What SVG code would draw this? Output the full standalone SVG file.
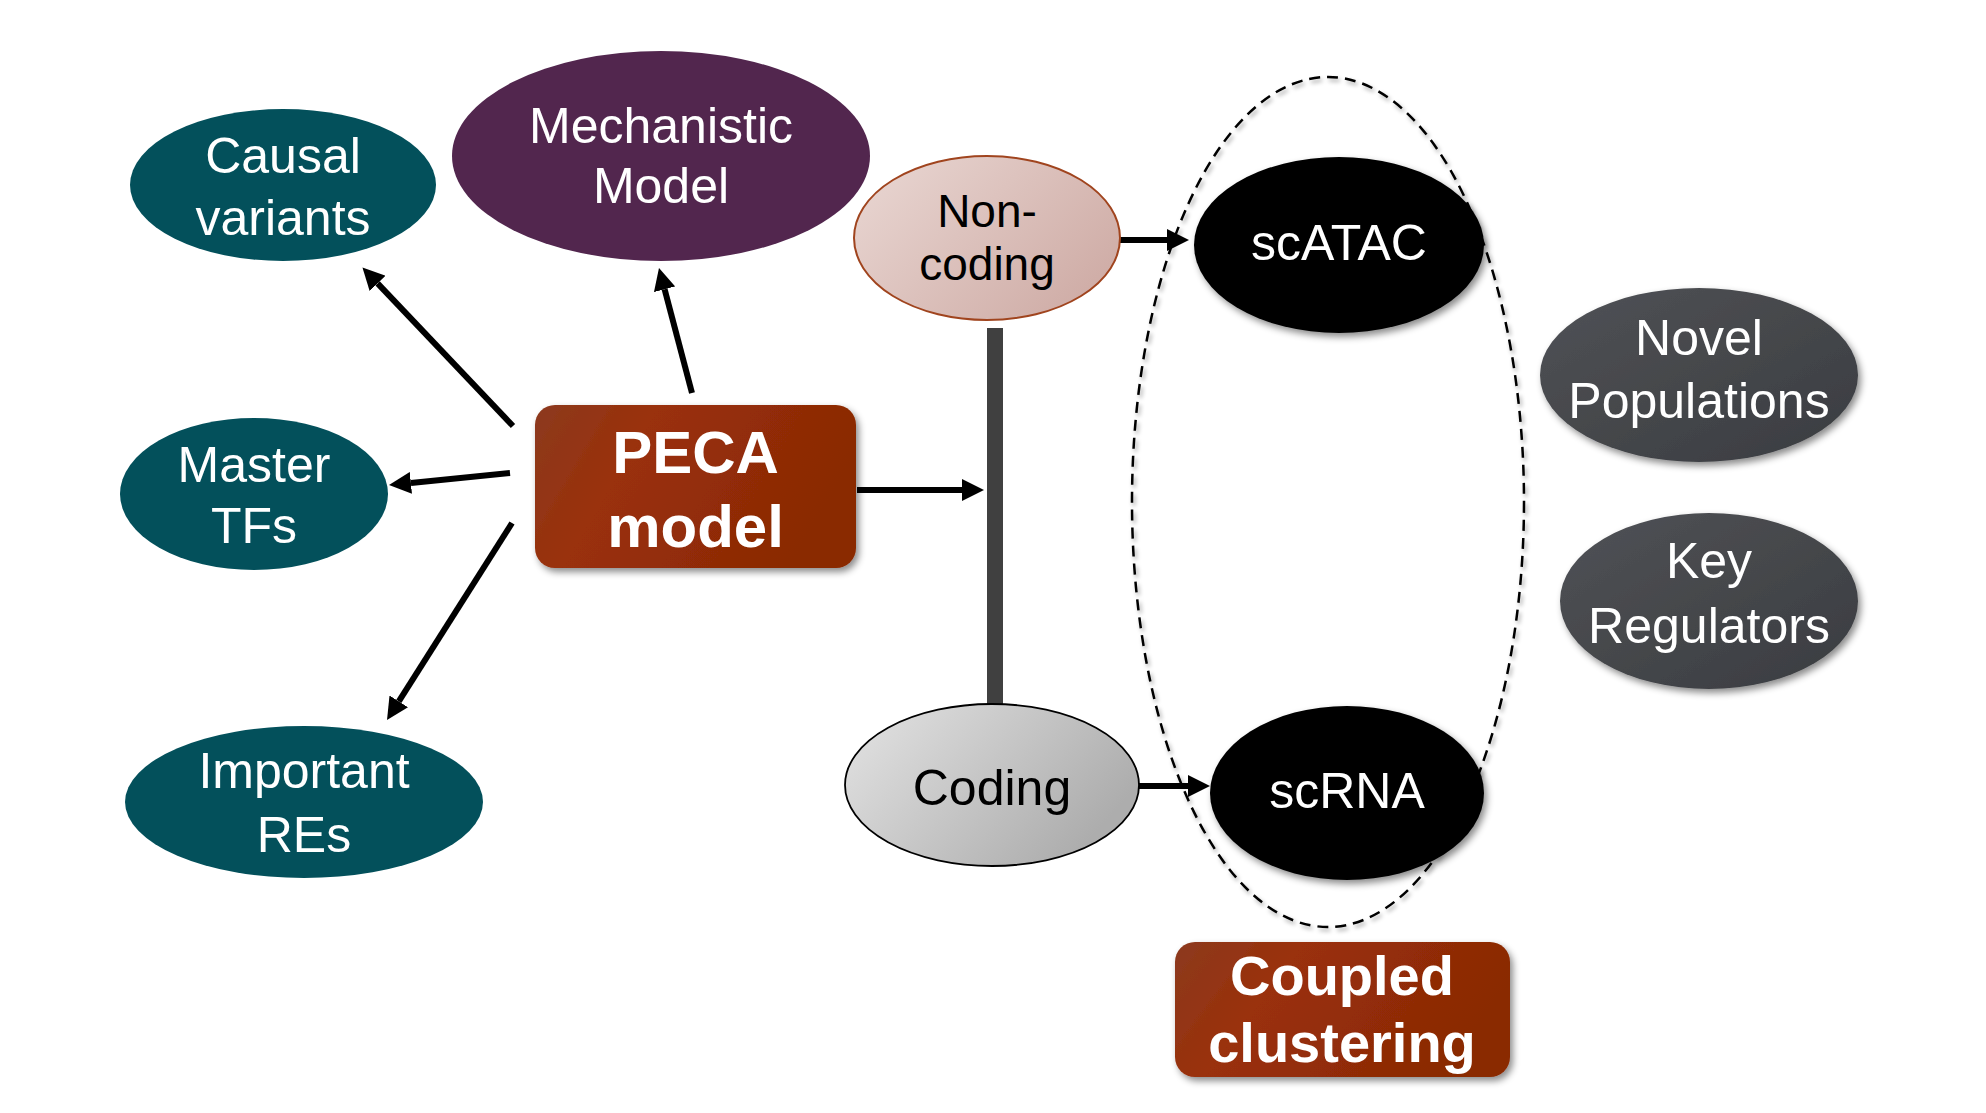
<svg xmlns="http://www.w3.org/2000/svg" width="1986" height="1113" viewBox="0 0 1986 1113">
<style>
.lt{font-family:"Liberation Sans",Arial,sans-serif;font-size:50px;fill:#ffffff;text-anchor:middle}
.dk{font-family:"Liberation Sans",Arial,sans-serif;fill:#000000;text-anchor:middle}
.bd{font-family:"Liberation Sans",Arial,sans-serif;font-weight:bold;fill:#ffffff;text-anchor:middle}
.teal{fill:#03505b}
.arrow{stroke:#000;stroke-width:6;fill:none;marker-end:url(#ah)}
</style>
<defs>
<marker id="ah" markerUnits="userSpaceOnUse" markerWidth="22" markerHeight="22" refX="0" refY="11" orient="auto" viewBox="0 0 22 22">
<path d="M0,0 L22,11 L0,22 z" fill="#000"/>
</marker>
<filter id="sh" x="-20%" y="-20%" width="140%" height="140%">
<feDropShadow dx="3" dy="4" stdDeviation="3.5" flood-color="#000" flood-opacity="0.45"/>
</filter>
<filter id="shs" x="-10%" y="-10%" width="120%" height="120%">
<feDropShadow dx="2" dy="3" stdDeviation="2" flood-color="#000" flood-opacity="0.35"/>
</filter>
<linearGradient id="gBrown" x1="0" y1="0" x2="1" y2="0.3">
<stop offset="0" stop-color="#8c3a1e"/>
<stop offset="0.35" stop-color="#9a300a"/>
<stop offset="1" stop-color="#8a2904"/>
</linearGradient>
<linearGradient id="gPink" x1="0" y1="0" x2="1" y2="0.6">
<stop offset="0" stop-color="#ead8d4"/>
<stop offset="1" stop-color="#d0aea8"/>
</linearGradient>
<linearGradient id="gGray" x1="0" y1="0" x2="1" y2="0.5">
<stop offset="0" stop-color="#e4e4e4"/>
<stop offset="1" stop-color="#adadad"/>
</linearGradient>
<linearGradient id="gDark" x1="0" y1="0" x2="1" y2="1">
<stop offset="0" stop-color="#505256"/>
<stop offset="1" stop-color="#3a3c40"/>
</linearGradient>
</defs>

<g id="cluster-outline">
<ellipse cx="1328" cy="502" rx="196" ry="425" fill="none" stroke="#000" stroke-width="2.5" stroke-dasharray="11,7" filter="url(#shs)"/>
</g>

<g id="connectors">
<line class="arrow" x1="513" y1="426" x2="377.6" y2="283.4"/>
<line class="arrow" x1="692" y1="393" x2="664.6" y2="289.3"/>
<line class="arrow" x1="510" y1="473" x2="410.9" y2="482.9"/>
<line class="arrow" x1="512" y1="523" x2="398.8" y2="701.4"/>
<line class="arrow" x1="857" y1="490" x2="962" y2="490"/>
<line class="arrow" x1="1120" y1="240" x2="1167" y2="240"/>
<line class="arrow" x1="1139" y1="786" x2="1188" y2="786"/>
<rect x="987" y="328" width="16" height="378" fill="#404040"/>
</g>

<g id="causal-variants">
<ellipse class="teal" cx="283" cy="185" rx="153" ry="76"/>
<text class="lt" x="283" y="173">Causal</text>
<text class="lt" x="283" y="235">variants</text>
</g>

<g id="mechanistic-model">
<ellipse cx="661" cy="156" rx="209" ry="105" fill="#52264e"/>
<text class="lt" x="661" y="143">Mechanistic</text>
<text class="lt" x="661" y="203">Model</text>
</g>

<g id="master-tfs">
<ellipse class="teal" cx="254" cy="494" rx="134" ry="76"/>
<text class="lt" x="254" y="482">Master</text>
<text class="lt" x="254" y="543">TFs</text>
</g>

<g id="important-res">
<ellipse class="teal" cx="304" cy="802" rx="179" ry="76"/>
<text class="lt" x="304" y="788">Important</text>
<text class="lt" x="304" y="852">REs</text>
</g>

<g id="peca-model">
<rect x="535" y="405" width="321" height="163" rx="20" fill="url(#gBrown)" filter="url(#sh)"/>
<text class="bd" x="695.5" y="473" font-size="60">PECA</text>
<text class="bd" x="695.5" y="547" font-size="60">model</text>
</g>

<g id="non-coding">
<ellipse cx="987" cy="238" rx="133" ry="82" fill="url(#gPink)" stroke="#a0441e" stroke-width="2"/>
<text class="dk" x="987" y="227" font-size="46">Non-</text>
<text class="dk" x="987" y="280" font-size="46">coding</text>
</g>

<g id="coding">
<ellipse cx="992" cy="785" rx="147" ry="81" fill="url(#gGray)" stroke="#000" stroke-width="1.8"/>
<text class="dk" x="992" y="805" font-size="50">Coding</text>
</g>

<g id="scatac">
<ellipse cx="1339" cy="245" rx="145" ry="88" fill="#000" filter="url(#sh)"/>
<text class="lt" x="1339" y="260" font-size="44">scATAC</text>
</g>

<g id="scrna">
<ellipse cx="1347" cy="793" rx="137" ry="87" fill="#000" filter="url(#sh)"/>
<text class="lt" x="1347" y="808" font-size="46">scRNA</text>
</g>

<g id="coupled-clustering">
<rect x="1175" y="942" width="335" height="135" rx="20" fill="url(#gBrown)" filter="url(#sh)"/>
<text class="bd" x="1342" y="995" font-size="56">Coupled</text>
<text class="bd" x="1342" y="1062" font-size="56">clustering</text>
</g>

<g id="novel-populations">
<ellipse cx="1699" cy="375" rx="159" ry="87" fill="url(#gDark)" filter="url(#sh)"/>
<text class="lt" x="1699" y="355">Novel</text>
<text class="lt" x="1699" y="418">Populations</text>
</g>

<g id="key-regulators">
<ellipse cx="1709" cy="601" rx="149" ry="88" fill="url(#gDark)" filter="url(#sh)"/>
<text class="lt" x="1709" y="578">Key</text>
<text class="lt" x="1709" y="643">Regulators</text>
</g>
</svg>
